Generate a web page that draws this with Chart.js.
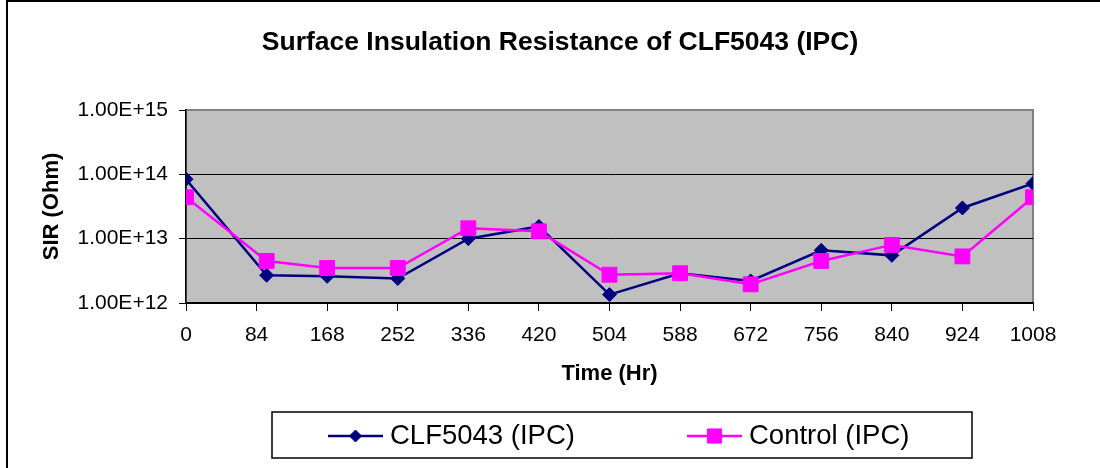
<!DOCTYPE html>
<html>
<head>
<meta charset="utf-8">
<title>Surface Insulation Resistance of CLF5043 (IPC)</title>
<script src="https://cdn.jsdelivr.net/npm/chart.js@4.4.1/dist/chart.umd.min.js"></script>
<style>
  html, body { margin: 0; padding: 0; background: #fff; }
  #sirChart { display: block; }
</style>
</head>
<body>
<canvas id="sirChart" width="1100" height="468"></canvas>
<script>
// measurement times (hr) and SIR readings (ohm)
const hours = [0, 96, 168, 252, 336, 420, 504, 588, 672, 756, 840, 924, 1008];
const clfValues = [8.4e13, 2.7e12, 2.6e12, 2.4e12, 1.0e13, 1.55e13, 1.35e12, 2.9e12, 2.2e12, 6.6e12, 5.5e12, 3.0e13, 7.2e13];
const controlValues = [4.4e13, 4.5e12, 3.5e12, 3.5e12, 1.45e13, 1.3e13, 2.75e12, 2.9e12, 1.95e12, 4.5e12, 8.0e12, 5.3e12, 4.4e13];
const seriesNames = ["CLF5043 (IPC)", "Control (IPC)"];
const xTickValues = [0, 84, 168, 252, 336, 420, 504, 588, 672, 756, 840, 924, 1008];
const yTickValues = [1e12, 1e13, 1e14, 1e15];

const FONT = "'Liberation Sans', Arial, Helvetica, sans-serif";

const toPoints = (xs, ys) => xs.map((x, i) => ({ x, y: ys[i] }));

// grey plot area + outer frame of the chart object
const plotFrame = {
    id: "plotFrame",
    beforeDraw(chart) {
        const { ctx, chartArea: a } = chart;
        ctx.save();
        ctx.fillStyle = "#c0c0c0";
        ctx.fillRect(a.left, a.top, a.right - a.left, a.bottom - a.top);
        ctx.strokeStyle = "#808080";
        ctx.lineWidth = 2;
        ctx.strokeRect(a.left, a.top, a.right - a.left, a.bottom - a.top);
        ctx.restore();
    },
    afterDraw(chart) {
        const { ctx } = chart;
        ctx.save();
        ctx.strokeStyle = "#000";
        ctx.lineWidth = 2;
        ctx.beginPath();
        ctx.moveTo(7, chart.height);
        ctx.lineTo(7, 1);
        ctx.lineTo(chart.width, 1);
        ctx.stroke();
        ctx.restore();
    }
};

// Excel style legend: line + marker, framed box
const boxLegend = {
    id: "boxLegend",
    afterDraw(chart, args, opts) {
        const { ctx } = chart;
        ctx.save();
        ctx.strokeStyle = "#000";
        ctx.lineWidth = 1.5;
        ctx.strokeRect(opts.x, opts.y, opts.width, opts.height);
        const cy = opts.y + opts.height / 2 + 1;
        ctx.font = opts.font;
        ctx.textBaseline = "middle";
        chart.data.datasets.forEach((ds, i) => {
            const x0 = opts.itemX[i];
            ctx.strokeStyle = ds.borderColor;
            ctx.lineWidth = ds.borderWidth;
            ctx.beginPath();
            ctx.moveTo(x0, cy);
            ctx.lineTo(x0 + opts.lineLength, cy);
            ctx.stroke();
            ctx.fillStyle = ds.pointBackgroundColor;
            ctx.strokeStyle = ds.pointBorderColor;
            ctx.lineWidth = 1;
            Chart.helpers.drawPoint(ctx, {
                pointStyle: ds.pointStyle,
                radius: opts.markerRadius[i],
                borderWidth: 1,
                rotation: 0
            }, x0 + opts.lineLength / 2, cy);
            ctx.fillStyle = "#000";
            ctx.fillText(ds.label, x0 + opts.lineLength + opts.gap, cy);
        });
        ctx.restore();
    }
};

new Chart(document.getElementById("sirChart"), {
    type: "line",
    data: {
        datasets: [{
            label: seriesNames[0],
            data: toPoints(hours, clfValues),
            borderColor: "#000080",
            backgroundColor: "#000080",
            pointBackgroundColor: "#000080",
            pointBorderColor: "#000080",
            borderWidth: 2.5,
            pointStyle: "rectRot",
            pointRadius: 7,
            pointBorderWidth: 1,
            tension: 0,
            order: 2
        }, {
            label: seriesNames[1],
            data: toPoints(hours, controlValues),
            borderColor: "#ff00ff",
            backgroundColor: "#ff00ff",
            pointBackgroundColor: "#ff00ff",
            pointBorderColor: "#ff00ff",
            borderWidth: 2.5,
            pointStyle: "rect",
            pointRadius: 10.5,
            pointBorderWidth: 1,
            tension: 0,
            order: 1
        }]
    },
    options: {
        responsive: false,
        animation: false,
        events: [],
        // left padding shifts the centred title to match the original
        layout: { padding: { left: 20, right: 0, top: 0, bottom: 0 } },
        scales: {
            x: {
                type: "linear",
                min: 0,
                max: 1008,
                afterBuildTicks: s => { s.ticks = xTickValues.map(v => ({ value: v })); },
                afterFit: s => { s.height = 165; s.paddingRight = 67; },
                ticks: {
                    autoSkip: false,
                    maxRotation: 0,
                    padding: 12,
                    color: "#000",
                    font: { family: FONT, size: 21 },
                    callback: v => String(v)
                },
                grid: { drawOnChartArea: false, tickLength: 8, tickColor: "#000" },
                border: { color: "#000", width: 1.5 },
                title: {
                    display: true,
                    text: "Time (Hr)",
                    color: "#000",
                    font: { family: FONT, size: 22, weight: "bold" },
                    padding: { top: 0, bottom: 80.8 }
                }
            },
            y: {
                type: "logarithmic",
                min: 1e12,
                max: 1e15,
                afterBuildTicks: s => { s.ticks = yTickValues.map(v => ({ value: v })); },
                afterFit: s => { s.width = 166; },
                ticks: {
                    padding: 11,
                    color: "#000",
                    font: { family: FONT, size: 21 },
                    callback: v => Number(v).toExponential(2).toUpperCase()
                },
                grid: {
                    color: c => (c.tick && c.tick.value === 1e15 ? "#808080" : "#000"),
                    lineWidth: 1,
                    tickLength: 7,
                    tickColor: "#000"
                },
                border: { color: "#000", width: 1.5 },
                title: {
                    display: true,
                    text: "SIR (Ohm)",
                    color: "#000",
                    font: { family: FONT, size: 22, weight: "bold" },
                    padding: { top: 19, bottom: 0 }
                }
            }
        },
        plugins: {
            legend: { display: false },
            tooltip: { enabled: false },
            title: {
                display: true,
                text: "Surface Insulation Resistance of CLF5043 (IPC)",
                color: "#000",
                font: { family: FONT, size: 26.5, weight: "bold" },
                padding: { top: 27, bottom: 51.2 }
            },
            boxLegend: {
                x: 272, y: 412, width: 700, height: 46,
                itemX: [328, 687],
                lineLength: 55,
                gap: 7,
                markerRadius: [6, 10],
                font: "27.5px " + FONT
            }
        }
    },
    plugins: [plotFrame, boxLegend]
});
</script>
</body>
</html>
